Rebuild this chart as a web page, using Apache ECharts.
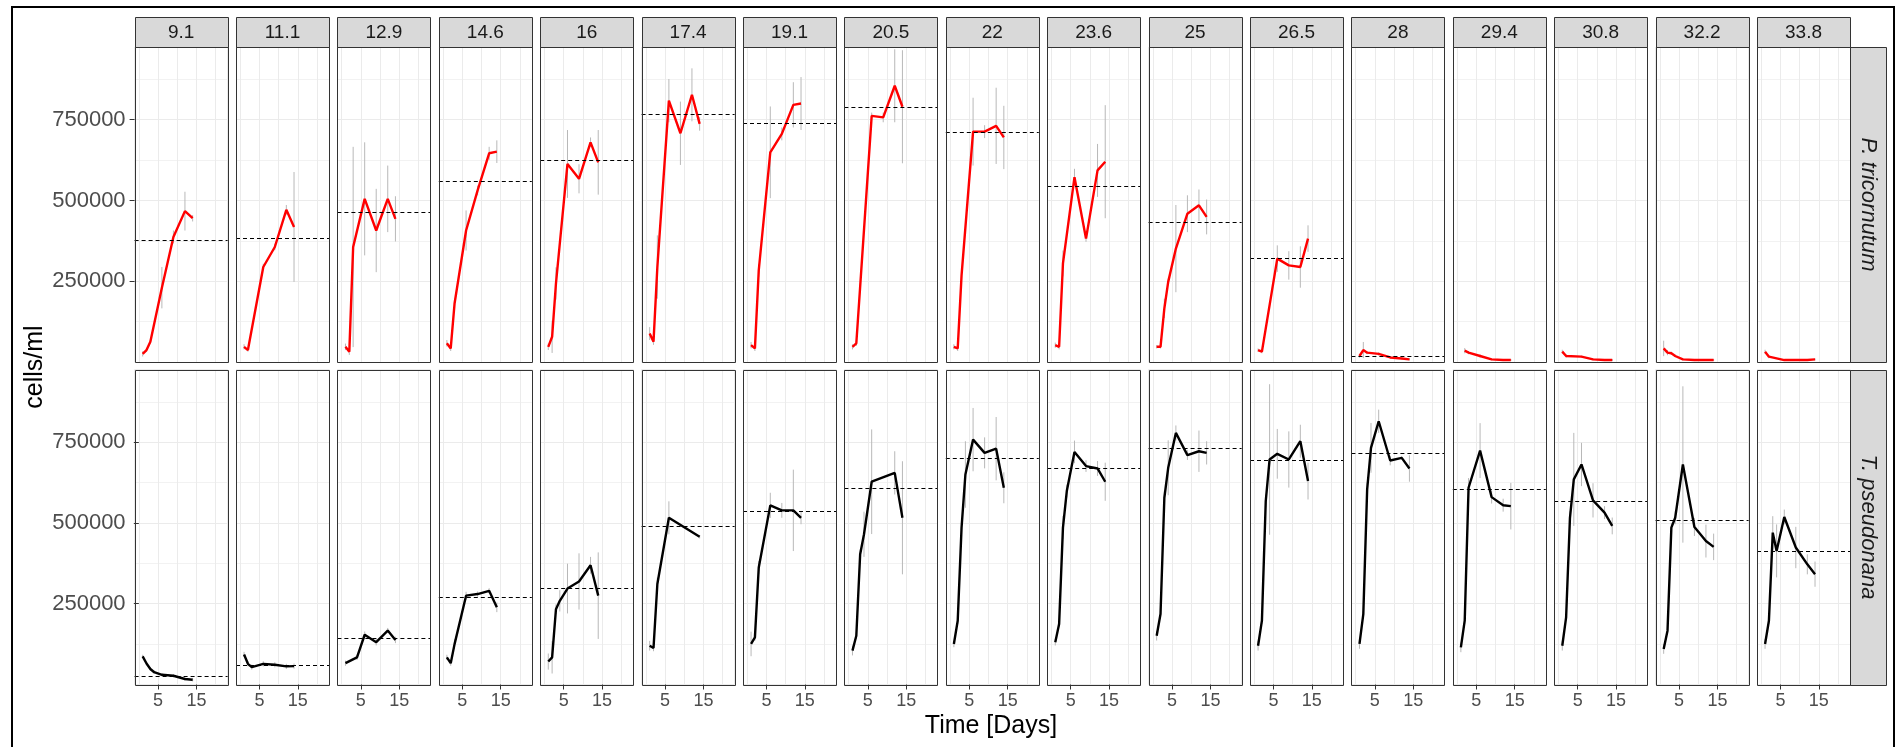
<!DOCTYPE html>
<html>
<head>
<meta charset="utf-8">
<script src="https://cdn.jsdelivr.net/npm/echarts@6/dist/echarts.min.js"></script>
<style>
html,body{margin:0;padding:0;background:#fff;}
#c{width:1897px;height:747px;}
</style>
</head>
<body>
<div id="c"></div>
<script>
// ---------- data ----------
const temps = ['9.1','11.1','12.9','14.6','16','17.4','19.1','20.5','22','23.6','25','26.5','28','29.4','30.8','32.2','33.8'];
const speciesNames = ['P. tricornutum', 'T. pseudonana'];
const days = [1, 2, 3, 4, 6, 9, 12, 14];
const xTicks = [5, 15];
const yTicks = [250000, 500000, 750000];

// P. tricornutum mean cells/ml (rows = temperatures, cols = days)
const ptMean = [
  [25000, 37000, 63000, null, 230000, 387000, 467000, 445000],
  [47000, 37000, null, null, 294000, 356000, 471000, 418000],
  [47000, 32000, 356000, null, 505000, 407000, 505000, 443000],
  [58000, 42000, 181000, null, 407000, 531000, 646000, 651000],
  [47000, 78000, 243000, null, 613000, 567000, 680000, 618000],
  [88000, 63000, 294000, null, 809000, 708000, 827000, 737000],
  [52000, 42000, 284000, null, 649000, 706000, 796000, 800000],
  [47000, 58000, 233000, null, 762000, 757000, 855000, 790000],
  [47000, 42000, 268000, null, 713000, 713000, 731000, 695000],
  [52000, 47000, 305000, null, 572000, 382000, 593000, 620000],
  [47000, 47000, 166000, 248000, 351000, 459000, 485000, 449000],
  [37000, 32000, null, null, 320000, 299000, 294000, 382000],
  [18500, 37000, 29000, null, 25000, 14000, 11000, 8000],
  [null, 35000, 29000, null, 18500, 8000, 6000, 6000],
  [32000, 18500, null, null, 16500, 8000, 6000, 6000],
  [42000, 29000, 27000, 18500, 8000, 6000, 6000, 6000],
  [32000, 16500, null, null, 6000, 6000, 6000, 8000]
];
const ptSd = [
  [8000, 5000, 5000, null, 64000, 20000, 60000, 10000],
  [8000, 5000, null, null, 10000, 10000, 15000, 170000],
  [10000, 10000, 310000, null, 175000, 129000, 103000, 70000],
  [10000, 8000, 15000, null, 62000, 15000, 20000, 35000],
  [10000, 50000, 50000, null, 105000, 45000, 15000, 100000],
  [20000, 10000, 98000, null, 67000, 98000, 82000, 21000],
  [10000, 8000, 20000, null, 142000, 20000, 70000, 82000],
  [8000, 8000, 10000, null, 10000, 15000, 113000, 175000],
  [8000, 8000, 10000, null, 105000, 20000, 118000, 98000],
  [8000, 8000, 40000, null, 26000, 10000, 82000, 175000],
  [5000, 5000, 30000, 10000, 135000, 57000, 49000, 54000],
  [5000, 5000, null, null, 41000, 44000, 64000, 41000],
  [5000, 25000, 5000, null, 5000, 3000, 3000, 3000],
  [null, 8000, 5000, null, 5000, 3000, 3000, 3000],
  [6000, 5000, null, null, 3000, 3000, 3000, 3000],
  [24000, 8000, 5000, 4000, 3000, 3000, 3000, 3000],
  [6000, 5000, null, null, 3000, 3000, 3000, 3000]
];
const ptDash = [376500, 383700, 465000, 560700, 623000, 767500, 738700, 788000, 711000, 543000, 433000, 322000, 16500, null, null, null, null];

// T. pseudonana mean cells/ml
const tpMean = [
  [87000, 65000, 48000, 38000, 30000, 27000, 17000, 14500],
  [93000, 64000, 54000, null, 64000, 61000, 56000, 57000],
  [66000, null, null, 84000, 154000, 131000, 167000, 138000],
  [84000, 66000, 125000, null, 275000, 280000, 290000, 239000],
  [71000, 84000, 233000, 259000, 297000, 319000, 369000, 275000],
  [120000, 113000, 311000, null, 516000, null, null, 457000],
  [125500, 146000, 362000, null, 554500, 539000, 539000, 516000],
  [105000, 151000, 403000, 465000, 627600, null, 655000, 516000],
  [125500, 197500, 485600, 650000, 758000, 717000, 730000, 609000],
  [130700, 187000, 485600, 598800, 720000, 676000, 668700, 627600],
  [151000, 218000, 578000, 670800, 778800, 710000, 722000, 717000],
  [120000, 197500, 568000, 696500, 714000, 696500, 753000, 629600],
  [125500, 218000, 604000, 732500, 814800, 693400, 701600, 668700],
  [115000, 197500, 609000, null, 724000, 580000, 555000, 552000],
  [120000, 208000, 516000, 634800, 681000, 570000, 532000, 490800],
  [110000, 166700, 485600, 516000, 681000, 487600, 444000, 426000],
  [125500, 197500, 470000, 413500, 518500, 424000, 372000, 341500]
];
const tpSd = [
  [5000, 5000, 5000, 5000, 5000, 5000, 5000, 5000],
  [8000, 8000, 8000, null, 8000, 8000, 8000, 8000],
  [8000, null, null, 8000, 10000, 10000, 8000, 10000],
  [8000, 8000, 15000, null, 12000, 8000, 8000, 15000],
  [25000, 50000, 15000, 33000, 77000, 87000, 26000, 134000],
  [15000, 10000, 20000, null, 51000, null, null, 5000],
  [38000, 10000, 20000, null, 39000, 23000, 126000, 20000],
  [15000, 10000, 15000, 70000, 162000, null, 67000, 175000],
  [10000, 10000, 20000, 103000, 98000, 48000, 98000, 48000],
  [10000, 10000, 36000, 20000, 35000, 18000, 23000, 59000],
  [15000, 10000, 20000, 85000, 23000, 15000, 64000, 36000],
  [15000, 10000, 20000, 233000, 77000, 87000, 51000, 57000],
  [15000, 10000, 20000, 77000, 36000, 15000, 5000, 41000],
  [15000, 10000, 30000, null, 85000, 20000, 20000, 72000],
  [15000, 10000, 20000, 144000, 67000, 53000, 20000, 26000],
  [15000, 10000, 15000, 20000, 242000, 28000, 51000, 41000],
  [15000, 10000, 51000, 82000, 23000, 64000, 31000, 39000]
];
const tpDash = [24800, 58900, 143000, 269500, 297000, 488700, 536000, 607000, 701600, 670800, 730000, 695500, 717000, 604000, 568000, 508000, 413600];

// ---------- layout ----------
const FONT = '"Liberation Sans", Arial, sans-serif';
const P_LEFT = 134.6, P_STEP = 101.4, P_W = 93, P_H = 315;
const ROW_TOP = [47, 369.5];
const STRIP_TOP = 17, STRIP_H = 30;
const RSTRIP_X = 1850, RSTRIP_W = 36;
const Y_MAX = 975000, X_MIN = -1.1, X_MAX = 23.1;
const BORDER = '#333333';

const rows = [
  {name: speciesNames[0], mean: ptMean, sd: ptSd, dash: ptDash, color: '#ff0000'},
  {name: speciesNames[1], mean: tpMean, sd: tpSd, dash: tpDash, color: '#000000'}
];

const grids = [], xAxes = [], yAxes = [], series = [], gfx = [];

function errRender(params, api) {
  const x = api.value(0), lo = api.value(1), hi = api.value(2);
  const p1 = api.coord([x, lo]);
  const p2 = api.coord([x, hi]);
  return {type: 'line', shape: {x1: p1[0], y1: p1[1], x2: p2[0], y2: p2[1]},
          style: {stroke: '#b8b8b8', lineWidth: 1}};
}

rows.forEach((row, r) => {
  temps.forEach((t, c) => {
    const gi = grids.length;
    const left = P_LEFT + c * P_STEP;
    grids.push({left: left, top: ROW_TOP[r], width: P_W, height: P_H, show: true,
      borderWidth: 0, backgroundColor: '#ffffff', containLabel: false});

    const xa = xAxes.length;
    xAxes.push({gridIndex: gi, type: 'value', position: 'bottom', min: X_MIN, max: X_MAX, splitNumber: 5,
      axisLine: {show: false}, axisTick: {show: false}, axisLabel: {show: false},
      splitLine: {show: true, lineStyle: {color: '#ebebeb', width: 1}}});
    if (r === 1) {
      xAxes.push({gridIndex: gi, type: 'value', position: 'bottom', min: X_MIN, max: X_MAX, splitNumber: 5,
        axisLine: {show: false}, splitLine: {show: false},
        axisTick: {show: true, length: 5, customValues: xTicks, lineStyle: {color: BORDER, width: 1}},
        axisLabel: {show: true, customValues: xTicks, margin: 8, fontSize: 18, color: '#4d4d4d', fontFamily: FONT,
          formatter: v => (xTicks.indexOf(v) >= 0 ? String(v) : '')}});
    }
    const ya = yAxes.length;
    yAxes.push({gridIndex: gi, type: 'value', position: 'left', min: 0, max: Y_MAX, interval: 250000,
      axisLine: {show: false}, axisTick: {show: false}, axisLabel: {show: false},
      splitLine: {show: true, lineStyle: {color: '#ebebeb', width: 1}},
      minorTick: {show: false, splitNumber: 2},
      minorSplitLine: {show: true, lineStyle: {color: '#f2f2f2', width: 1}}});
    if (c === 0) {
      yAxes.push({gridIndex: gi, type: 'value', position: 'left', min: 0, max: Y_MAX, interval: 250000,
        axisLine: {show: false}, splitLine: {show: false},
        axisTick: {show: true, length: 5, customValues: yTicks, lineStyle: {color: BORDER, width: 1}},
        axisLabel: {show: true, customValues: yTicks, margin: 9, fontSize: 22, color: '#4d4d4d', fontFamily: FONT,
          formatter: v => (yTicks.indexOf(v) >= 0 ? String(v) : '')}});
    }

    const mean = row.mean[c], sd = row.sd[c];
    const pts = days.map((d, i) => [d, mean[i]]).filter(p => p[1] != null);
    const bars = days.map((d, i) => (mean[i] == null || sd[i] == null) ? null : [d, mean[i] - sd[i], mean[i] + sd[i]])
                     .filter(b => b !== null);

    series.push({type: 'custom', xAxisIndex: xa, yAxisIndex: ya, data: bars, renderItem: errRender,
      encode: {x: 0, y: [1, 2]}, clip: true, z: 2, silent: true, animation: false});

    const line = {type: 'line', xAxisIndex: xa, yAxisIndex: ya, data: pts, showSymbol: false, symbol: 'none',
      lineStyle: {color: row.color, width: 2.4}, itemStyle: {color: row.color}, z: 3, silent: true, animation: false};
    if (row.dash[c] != null) {
      line.markLine = {silent: true, symbol: ['none', 'none'], label: {show: false}, animation: false,
        lineStyle: {type: [4, 3], color: '#000000', width: 1}, emphasis: {disabled: true},
        data: [{yAxis: row.dash[c]}]};
    }
    series.push(line);

    // panel border on top of everything in the panel
    gfx.push({type: 'rect', shape: {x: Math.round(left) + 0.5, y: Math.round(ROW_TOP[r]) + 0.5,
      width: P_W, height: P_H}, style: {fill: 'none', stroke: BORDER, lineWidth: 1}, z: 12, silent: true});

    // top strips
    if (r === 0) {
      gfx.push({type: 'rect', shape: {x: Math.round(left) + 0.5, y: STRIP_TOP + 0.5, width: P_W, height: STRIP_H},
        style: {fill: '#d9d9d9', stroke: BORDER, lineWidth: 1}, z: 10, silent: true});
      gfx.push({type: 'text', x: left + P_W / 2, y: STRIP_TOP + STRIP_H / 2 + 1,
        style: {text: t, fill: '#1a1a1a', fontSize: 19, fontFamily: FONT, align: 'center', verticalAlign: 'middle'},
        z: 11, silent: true});
    }
  });
  // right strips
  gfx.push({type: 'rect', shape: {x: RSTRIP_X + 0.5, y: Math.round(ROW_TOP[r]) + 0.5, width: RSTRIP_W, height: P_H},
    style: {fill: '#d9d9d9', stroke: BORDER, lineWidth: 1}, z: 10, silent: true});
  gfx.push({type: 'text', x: RSTRIP_X + RSTRIP_W / 2, y: ROW_TOP[r] + P_H / 2, rotation: -Math.PI / 2,
    style: {text: row.name, fill: '#1a1a1a', fontSize: 22, fontStyle: 'italic', fontFamily: FONT,
      align: 'center', verticalAlign: 'middle'}, z: 11, silent: true});
});

// outer frame and axis titles
gfx.push({type: 'rect', shape: {x: 12, y: 7, width: 1882, height: 800},
  style: {fill: 'none', stroke: '#000000', lineWidth: 2}, z: 20, silent: true});
gfx.push({type: 'text', x: 35, y: 367, rotation: Math.PI / 2,
  style: {text: 'cells/ml', fill: '#000000', fontSize: 25, fontFamily: FONT, align: 'center', verticalAlign: 'middle'},
  z: 11, silent: true});
gfx.push({type: 'text', x: 991, y: 726,
  style: {text: 'Time [Days]', fill: '#000000', fontSize: 25, fontFamily: FONT, align: 'center', verticalAlign: 'middle'},
  z: 11, silent: true});

const chart = echarts.init(document.getElementById('c'), null, {renderer: 'canvas', width: 1897, height: 747});
chart.setOption({
  animation: false,
  backgroundColor: '#ffffff',
  textStyle: {fontFamily: FONT},
  grid: grids,
  xAxis: xAxes,
  yAxis: yAxes,
  series: series,
  graphic: {elements: gfx}
});
</script>
</body>
</html>
